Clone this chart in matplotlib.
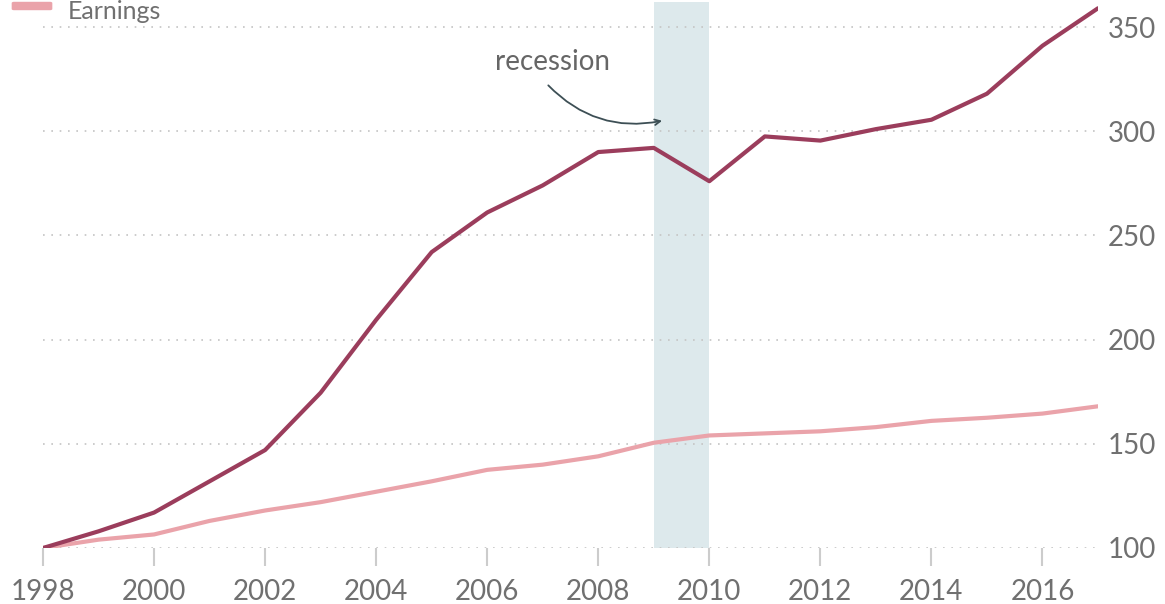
import matplotlib
matplotlib.use("Agg")
import matplotlib.pyplot as plt
from matplotlib.patches import FancyBboxPatch

plt.rcParams['font.family'] = ['Lato', 'DejaVu Sans']

# ---------------------------------------------------------------- data
years = list(range(1998, 2018))
house_prices = [100, 108, 117, 132, 147, 174.5, 209.5, 242, 261, 274,
                290, 292, 276, 297.5, 295.5, 301, 305.5, 318, 341, 359]
earnings = [100, 104, 106.5, 113, 118, 122, 127, 132, 137.5, 140,
            144, 150.5, 154, 155, 156, 158, 161, 162.5, 164.5, 168]
recession = (2009, 2010)
xticks = list(range(1998, 2017, 2))
yticks = [100, 150, 200, 250, 300, 350]

DARK = "#9b3d5c"
LIGHT = "#eaa3aa"
TXT = "#707070"

# ---------------------------------------------------------------- figure
fig = plt.figure(figsize=(11.65, 6.04), dpi=100)
ax = fig.add_axes([43 / 1165, 1 - 548 / 604, (1098 - 43) / 1165, (548 - 2) / 604])

ax.axvspan(*recession, ymin=0, ymax=1, color="#dde9ec", lw=0, zorder=0)
ax.plot(years, earnings, color=LIGHT, lw=3, solid_capstyle="round", zorder=3)
ax.plot(years, house_prices, color=DARK, lw=3, solid_capstyle="round", zorder=4)

ax.set_xlim(1998, 2017)
ax.set_ylim(100, 362)
for s in ax.spines.values():
    s.set_visible(False)

ax.set_yticks(yticks)
ax.yaxis.tick_right()
ax.tick_params(axis="y", length=0, pad=42, labelsize=20, labelcolor=TXT)
for lab in ax.get_yticklabels():
    lab.set_horizontalalignment("right")
ax.set_xticks(xticks)
ax.tick_params(axis="x", length=13, width=1.5, color="#cccccc", pad=9,
               labelsize=20, labelcolor=TXT)

ax.grid(axis="y", color="#c4c4c4", linestyle=(0, (1, 4)), lw=1.2, zorder=1)
ax.set_axisbelow(True)

# recession note with a curved arrow
ax.text(2007.17, 333, "recession", ha="center", va="center",
        fontsize=20, color="#666666")
ax.annotate("", xy=(2009.15, 305), xytext=(2007.1, 322),
            arrowprops=dict(arrowstyle="->", color="#3d4f55", lw=1.3,
                            shrinkA=0, shrinkB=0,
                            connectionstyle="arc3,rad=0.27"))

# legend entry at the top left
fig.add_artist(FancyBboxPatch((14 / 1165, 1 - 9 / 604), 36 / 1165, 6 / 604,
                              boxstyle="round,pad=0.002", color=LIGHT, lw=0,
                              transform=fig.transFigure))
fig.text(68 / 1165, 1 - 19 / 604, "Earnings", fontsize=18, color=TXT,
         va="baseline", ha="left")

fig.savefig("out.png", dpi=100)
